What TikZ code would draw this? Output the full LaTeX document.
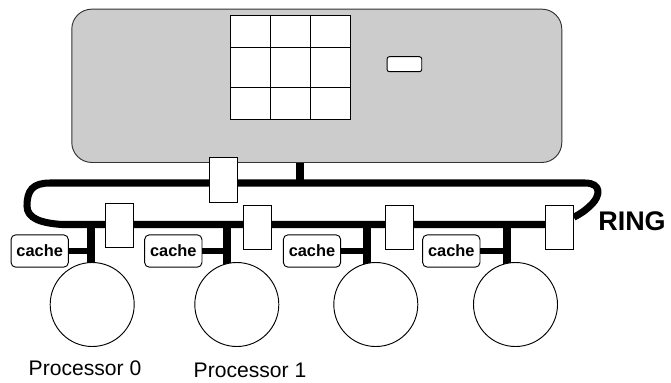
\documentclass[tikz,border=0pt]{standalone}
\usepackage{fontspec}
\setmainfont{Liberation Sans}
\usetikzlibrary{positioning,calc,backgrounds}
\definecolor{hostgrey}{RGB}{204,204,204}
\definecolor{edgegrey}{RGB}{51,51,51}

\begin{document}
\begin{tikzpicture}[x=0.03cm, y=-0.03cm,
    host/.style={draw=edgegrey, thick, rounded corners=0.6cm, fill=hostgrey,
              minimum width=14.7cm, minimum height=4.6cm, inner sep=0pt},
    tag/.style={draw=black, thick, rounded corners=2pt, fill=white,
              minimum width=1.04cm, minimum height=0.45cm, inner sep=0pt},
    iface/.style={draw=black, thick, fill=white,
              minimum width=0.84cm, minimum height=1.33cm, inner sep=0pt},
    cachebox/.style={draw=black, thick, rounded corners=4pt, fill=white,
              minimum width=1.72cm, minimum height=0.97cm, inner sep=0pt,
              font=\fontsize{14}{16}\selectfont\bfseries},
    cpu/.style={circle, draw=black, thick, fill=white, minimum size=2.52cm, inner sep=0pt},
    bus/.style={line width=6pt, line join=round},
    drop/.style={line width=6.5pt},
    link/.style={line width=5pt},
    proclabel/.style={font=\fontsize{18}{20}\selectfont}]
\useasboundingbox (0,0) rectangle (671,382);
% memory module
\node[host] (mem) at (316.8,85.8) {};
\draw[thick, fill=white] (230,15.3) rectangle (350.7,119.3);
\foreach \gx in {270.7,310.9} \draw[thick] (\gx,15.3) -- (\gx,119.3);
\foreach \gy in {47.7,87.7} \draw[thick] (230,\gy) -- (350.7,\gy);
\node[tag] (slot) at (404.4,64.2) {};
% ring interfaces
\node[iface] (ifmem) at (223.5,179.8) {};
\node[iface] (if0) at (119.5,225.3) {};
\node[iface] (if1) at (257.3,227.5) {};
\node[iface] (if2) at (399.7,227.3) {};
\node[iface] (if3) at (559.3,227.2) {};
% caches and processors
\foreach \i/\cx/\tx/\px in {0/39.7/91.3/92.2, 1/173.3/226.7/236.8, 2/312/366.7/375.8, 3/451.3/506.7/515.5} {
  \node[cachebox] (cache\i) at (\cx,251) {cache};
  \node[cpu] (cpu\i) at (\px,304.5) {};
  \coordinate (tap\i) at (\tx,224.5);
}
\node[proclabel] (lab0) at (85,368) {Processor 0};
\node[proclabel] (lab1) at (250,370) {Processor 1};
\node[font=\fontsize{23}{27}\selectfont\bfseries] (ring) at (632,221.7) {RING};
% the ring itself
\begin{scope}[on background layer]
\coordinate (ringL) at (62,224.5);
\coordinate (memtap) at (300,183);
\draw[bus] (if3.west |- ringL) -- (ringL)
    .. controls (40,223) and (27,218) .. (27,206)
    .. controls (27,190) and (33,183) .. (50,183) -- (585,183)
    .. controls (602,183) and (600,196) .. (592,204)
    .. controls (585,211) and (580,214) .. ($(if3.east)+(0,-10)$);
\draw[drop] (mem.south -| memtap) -- (memtap);
\foreach \i in {0,...,3} {
  \draw[drop] (tap\i) -- (tap\i |- cpu\i.center);
  \draw[link] (cache\i.east) -- (cache\i.east -| tap\i);
}
\end{scope}
\end{tikzpicture}
\end{document}
